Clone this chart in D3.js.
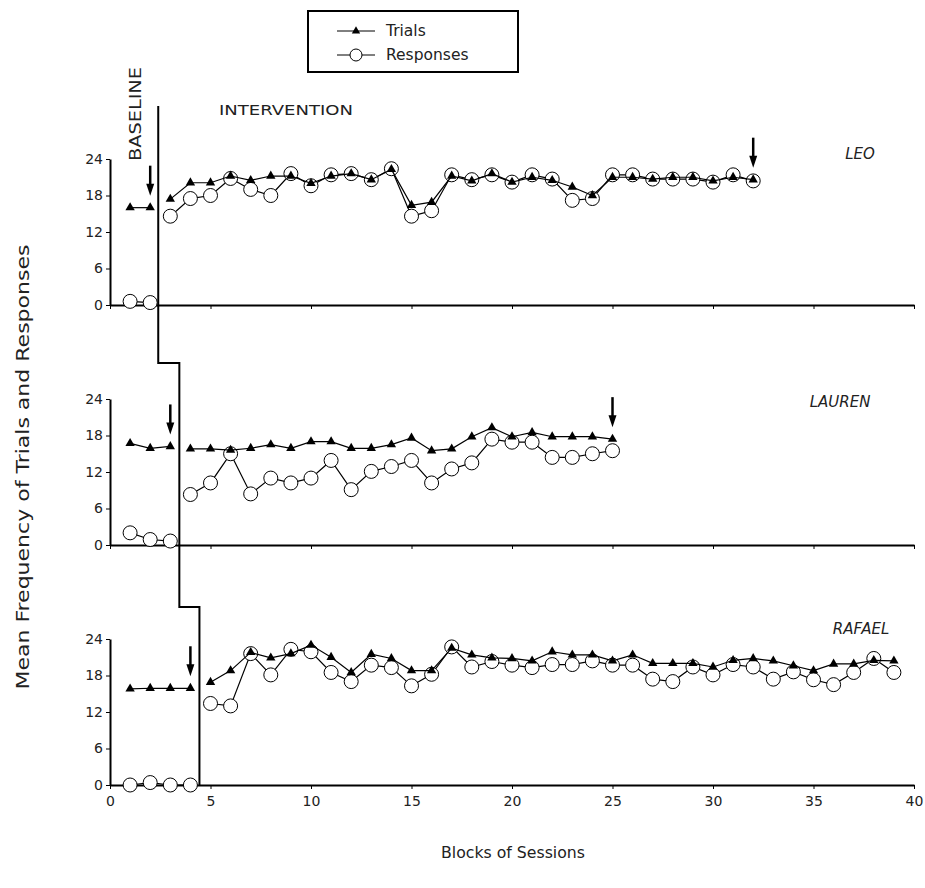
<!DOCTYPE html>
<html>
<head>
<meta charset="utf-8">
<script src="https://cdn.jsdelivr.net/npm/d3@7"></script>
<style>
  body { margin: 0; background: #fff; }
  text { font-family: "DejaVu Sans", Verdana, sans-serif; fill: #222; }
</style>
</head>
<body>
<div id="wrapper"></div>
<script>

// data
const participants = ["LEO", "LAUREN", "RAFAEL"];
const baselineLength = [2, 3, 4];
const phaseChanges = [2.4, 3.45, 4.45];

const leoTrials = [16.0, 16.0,
    17.4, 20.1, 20.1, 21.2, 20.5, 21.2, 21.2, 20.0, 21.2, 21.6, 20.6, 22.3, 16.4, 16.9,
    21.2, 20.4, 21.6, 20.2, 21.0, 20.5, 19.4, 18.0, 21.0, 21.0, 20.7, 21.0, 21.0, 20.4, 21.0, 20.6];
const leoResponses = [0.6, 0.4,
    14.6, 17.5, 18.0, 20.8, 19.0, 18.0, 21.6, 19.6, 21.4, 21.6, 20.6, 22.4, 14.6, 15.5,
    21.4, 20.6, 21.4, 20.2, 21.4, 20.7, 17.2, 17.5, 21.4, 21.4, 20.7, 20.7, 20.7, 20.2, 21.4, 20.4];

const laurenTrials = [16.7, 15.9, 16.2,
    15.8, 15.8, 15.6, 15.9, 16.5, 15.9, 17.0, 17.0, 15.9, 15.9, 16.5, 17.6, 15.5,
    15.8, 17.8, 19.3, 17.8, 18.5, 17.8, 17.8, 17.8, 17.4];
const laurenResponses = [2.0, 0.9, 0.65,
    8.3, 10.2, 15.0, 8.4, 11.0, 10.2, 11.0, 13.9, 9.1, 12.1, 12.9, 13.9, 10.2,
    12.5, 13.5, 17.4, 16.9, 16.9, 14.4, 14.4, 15.0, 15.5];

const rafaelTrials = [15.8, 15.9, 15.9, 15.9,
    16.9, 18.8, 21.8, 20.9, 21.6, 23.0, 21.0, 18.5, 21.5, 20.8, 18.8, 18.8,
    22.5, 21.4, 20.9, 20.8, 20.4, 21.9, 21.4, 21.4, 20.4, 21.4, 20.0, 20.0, 20.0, 19.4,
    20.5, 20.8, 20.4, 19.6, 18.8, 19.9, 19.9, 20.5, 20.4];
const rafaelResponses = [0, 0.4, 0, 0,
    13.4, 13.0, 21.6, 18.1, 22.3, 21.9, 18.5, 17.0, 19.7, 19.3, 16.3, 18.2,
    22.7, 19.4, 20.3, 19.7, 19.3, 19.8, 19.8, 20.4, 19.7, 19.7, 17.4, 17.0, 19.4, 18.1,
    19.8, 19.4, 17.4, 18.6, 17.3, 16.5, 18.5, 20.8, 18.5];

// sessions marked with a down arrow
const arrowSessions = [[2, 32], [3, 25], [4]];

const yTicks = [0, 6, 12, 18, 24];
const xTicks = [0, 5, 10, 15, 20, 25, 30, 35, 40];

const seriesTrials = [leoTrials, laurenTrials, rafaelTrials];
const seriesResponses = [leoResponses, laurenResponses, rafaelResponses];

function drawChart() {

    const dms = {
        width: 925,
        height: 888,
        left: 110,
        right: 914,
        panelZero: [305, 545, 785],
        panelHeight: 146
    };

    const wrapper = d3.select("#wrapper")
                        .append("svg")
                            .attr("width", dms.width)
                            .attr("height", dms.height);

    const xScale = d3.scaleLinear()
                    .domain([0, 40])
                    .range([dms.left, dms.right]);

    const yScales = dms.panelZero.map(z => d3.scaleLinear()
                    .domain([0, 24])
                    .range([z, z - dms.panelHeight]));

    participants.forEach((name, i) => {
        const yScale = yScales[i];
        const g = wrapper.append("g");
        const nBase = baselineLength[i];

        // axes
        const xAxis = g.append("g")
                .attr("transform", `translate(0, ${dms.panelZero[i]})`)
                .call(d3.axisBottom(xScale).tickValues(xTicks).tickSize(4)
                        .tickSizeOuter(0)
                        .tickFormat(i === 2 ? d3.format("d") : ""));
        xAxis.select(".domain").attr("stroke-width", 2);
        xAxis.selectAll("text").style("font-size", "14px").attr("dy", "1em");

        const yAxis = g.append("g")
                .attr("transform", `translate(${dms.left}, 0)`)
                .call(d3.axisLeft(yScale).tickValues(yTicks).tickSize(4).tickSizeOuter(0));
        yAxis.select(".domain").attr("stroke-width", 2);
        yAxis.selectAll("text").style("font-size", "14px");

        const toPoints = arr => arr.map((v, k) => ({ s: k + 1, v }));
        const resp = toPoints(seriesResponses[i]);
        const tri = toPoints(seriesTrials[i]);

        const line = d3.line()
                .x(d => xScale(d.s))
                .y(d => yScale(d.v));

        const drawSeries = (pts, kind) => {
            const phases = [pts.slice(0, nBase), pts.slice(nBase)];
            phases.forEach(p => {
                g.append("path")
                    .attr("d", line(p))
                    .attr("fill", "none")
                    .attr("stroke", "#000")
                    .attr("stroke-width", 1.2);
            });
            if (kind === "circle") {
                g.selectAll(null)
                    .data(pts)
                    .join("circle")
                        .attr("cx", d => xScale(d.s))
                        .attr("cy", d => yScale(d.v))
                        .attr("r", 7)
                        .attr("fill", "#fff")
                        .attr("stroke", "#000")
                        .attr("stroke-width", 1);
            } else {
                g.selectAll(null)
                    .data(pts)
                    .join("path")
                        .attr("transform", d => `translate(${xScale(d.s)}, ${yScale(d.v)})`)
                        .attr("d", d3.symbol(d3.symbolTriangle, 38))
                        .attr("fill", "#000");
            }
        };

        drawSeries(resp, "circle");
        drawSeries(tri, "triangle");

        // arrows
        arrowSessions[i].forEach(s => {
            const x = xScale(s);
            const tip = yScale(seriesTrials[i][s - 1]) - 12;
            g.append("line")
                .attr("x1", x).attr("x2", x)
                .attr("y1", tip - 30).attr("y2", tip - 8)
                .attr("stroke", "#000")
                .attr("stroke-width", 2.5);
            g.append("path")
                .attr("d", `M${x - 4},${tip - 12} L${x + 4},${tip - 12} L${x},${tip} Z`)
                .attr("fill", "#000");
        });

        // participant name
        g.append("text")
            .attr("x", [860, 840, 861][i])
            .attr("y", yScale(24) + [0, 8, -5][i])
            .attr("text-anchor", "middle")
            .style("font-size", "15px")
            .style("font-style", "italic")
            .text(name);
    });

    // phase change line
    const stepY = [363, 607];
    const pX = phaseChanges.map(xScale);
    const phasePath = d3.path();
    phasePath.moveTo(pX[0], 106);
    phasePath.lineTo(pX[0], stepY[0]);
    phasePath.lineTo(pX[1], stepY[0]);
    phasePath.lineTo(pX[1], stepY[1]);
    phasePath.lineTo(pX[2], stepY[1]);
    phasePath.lineTo(pX[2], dms.panelZero[2]);
    wrapper.append("path")
        .attr("d", phasePath.toString())
        .attr("fill", "none")
        .attr("stroke", "#000")
        .attr("stroke-width", 2);

    // phase labels
    wrapper.append("text")
        .attr("transform", "translate(141, 161) rotate(-90)")
        .style("font-size", "16px")
        .attr("textLength", 94)
        .attr("lengthAdjust", "spacingAndGlyphs")
        .text("BASELINE");

    wrapper.append("text")
        .attr("x", 219)
        .attr("y", 115)
        .style("font-size", "14px")
        .attr("textLength", 134)
        .attr("lengthAdjust", "spacingAndGlyphs")
        .text("INTERVENTION");

    // axis titles
    wrapper.append("text")
        .attr("x", 513)
        .attr("y", 858)
        .attr("text-anchor", "middle")
        .style("font-size", "15px")
        .attr("textLength", 144)
        .attr("lengthAdjust", "spacingAndGlyphs")
        .text("Blocks of Sessions");

    wrapper.append("text")
        .attr("transform", "translate(29, 467) rotate(-90)")
        .attr("text-anchor", "middle")
        .style("font-size", "17px")
        .attr("textLength", 445)
        .attr("lengthAdjust", "spacingAndGlyphs")
        .text("Mean Frequency of Trials and Responses");

    // legend
    const legend = wrapper.append("g");
    legend.append("rect")
        .attr("x", 308).attr("y", 11)
        .attr("width", 210).attr("height", 61)
        .attr("fill", "#fff")
        .attr("stroke", "#000")
        .attr("stroke-width", 2);

    [["Trials", "triangle", 31], ["Responses", "circle", 55]].forEach(([label, kind, y]) => {
        legend.append("line")
            .attr("x1", 337).attr("x2", 375)
            .attr("y1", y).attr("y2", y)
            .attr("stroke", "#000");
        if (kind === "circle") {
            legend.append("circle")
                .attr("cx", 356).attr("cy", y).attr("r", 6)
                .attr("fill", "#fff").attr("stroke", "#000");
        } else {
            legend.append("path")
                .attr("transform", `translate(356, ${y})`)
                .attr("d", d3.symbol(d3.symbolTriangle, 30))
                .attr("fill", "#000");
        }
        legend.append("text")
            .attr("x", 386)
            .attr("y", y + 5)
            .style("font-size", "15.5px")
            .text(label);
    });
}

drawChart();
</script>
</body>
</html>
